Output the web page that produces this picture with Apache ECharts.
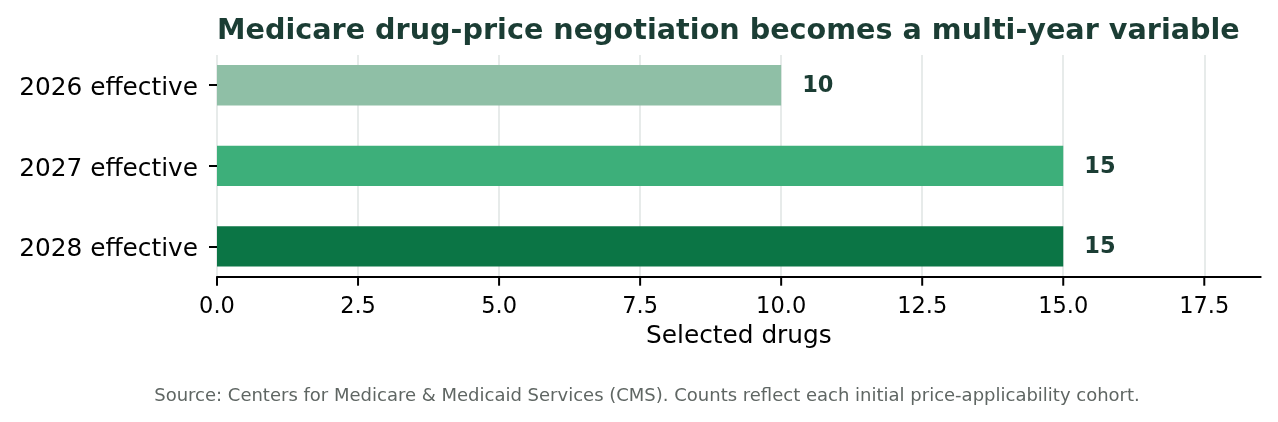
<!DOCTYPE html>
<html>
<head>
<meta charset="utf-8">
<title>Medicare drug-price negotiation</title>
<script src="https://cdn.jsdelivr.net/npm/echarts@6/dist/echarts.min.js"></script>
<style>
html, body { margin: 0; padding: 0; background: #fff; }
#chart { width: 1278px; height: 422px; }
</style>
</head>
<body>
<div id="chart"></div>
<script>
// data
var categories = ['2026 effective', '2027 effective', '2028 effective'];
var drugCounts = [10, 15, 15];
var barColors = ['#8fbfa6', '#3daf7a', '#0b7545'];
var xTicks = [0, 2.5, 5, 7.5, 10, 12.5, 15, 17.5];

var FONT = 'DejaVu Sans';
var DARK = '#1b3d34';
var Y_MIN = -0.375, Y_MAX = 2.375;

var seriesData = [];
for (var i = 0; i < categories.length; i++) {
    seriesData.push([drugCounts[i], i]);
}
var tickData = [];
for (var j = 0; j < xTicks.length; j++) {
    tickData.push([xTicks[j], Y_MAX]);
}

var myChart = echarts.init(document.getElementById('chart'), null, {renderer: 'canvas'});

var option = {
    animation: false,
    title: {
        text: 'Medicare drug-price negotiation becomes a multi-year variable',
        left: 217,
        top: 17,
        padding: 0,
        textStyle: {
            fontFamily: FONT,
            fontSize: 28.65,
            fontWeight: 'bold',
            color: DARK
        }
    },
    grid: {
        left: 217,
        right: 17.3,
        top: 55,
        bottom: 145.3
    },
    xAxis: {
        type: 'value',
        min: 0,
        max: 18.5,
        interval: 2.5,
        name: 'Selected drugs',
        nameLocation: 'middle',
        nameGap: 47,
        nameTextStyle: {fontFamily: FONT, fontSize: 24.8, color: '#000'},
        axisLine: {show: true, onZero: false, lineStyle: {color: '#000', width: 2}},
        axisTick: {show: false},
        axisLabel: {
            showMaxLabel: false,
            margin: 19,
            fontFamily: FONT,
            fontSize: 22.5,
            color: '#000',
            formatter: function (v) { return v.toFixed(1); }
        },
        splitLine: {show: true, showMaxLine: false, lineStyle: {color: '#dfe5e3', width: 1.5}}
    },
    yAxis: {
        type: 'value',
        inverse: true,
        min: Y_MIN,
        max: Y_MAX,
        axisLine: {show: false, onZero: false},
        axisTick: {show: true, length: 8, customValues: [0, 1, 2], lineStyle: {color: '#000', width: 2}},
        axisLabel: {
            customValues: [0, 1, 2],
            margin: 19,
            fontFamily: FONT,
            fontSize: 24.8,
            color: '#000',
            formatter: function (v) { return '{c|' + categories[Math.round(v)] + '}'; },
            rich: {
                c: {fontFamily: FONT, fontSize: 24.8, color: '#000', padding: [7, 0, 0, 0]}
            }
        },
        splitLine: {show: false}
    },
    series: [
        {
            type: 'custom',
            data: seriesData,
            encode: {x: 0, y: 1},
            renderItem: function (params, api) {
                var val = api.value(0);
                var idx = api.value(1);
                var p0 = api.coord([0, idx]);
                var p1 = api.coord([val, idx]);
                var h = Math.abs(api.size([0, 0.5])[1]);
                return {
                    type: 'group',
                    children: [
                        {
                            type: 'rect',
                            shape: {x: p0[0], y: p0[1] - h / 2, width: p1[0] - p0[0], height: h},
                            style: {fill: barColors[params.dataIndex]}
                        },
                        {
                            type: 'text',
                            x: p1[0] + 21,
                            y: p1[1] + 1,
                            style: {
                                text: String(val),
                                fontFamily: FONT,
                                fontSize: 22.5,
                                fontWeight: 'bold',
                                fill: DARK,
                                verticalAlign: 'middle',
                                align: 'left'
                            }
                        }
                    ]
                };
            }
        },
        {
            // x-axis tick marks, one per tick value, below the axis line
            type: 'custom',
            clip: false,
            silent: true,
            data: tickData,
            encode: {x: 0, y: 1},
            renderItem: function (params, api) {
                var p = api.coord([api.value(0), api.value(1)]);
                return {
                    type: 'line',
                    shape: {x1: p[0], y1: p[1], x2: p[0], y2: p[1] + 9},
                    style: {stroke: '#000', lineWidth: 2}
                };
            }
        }
    ],
    graphic: [
        {
            type: 'text',
            x: 647,
            y: 396,
            style: {
                text: 'Source: Centers for Medicare & Medicaid Services (CMS). Counts reflect each initial price-applicability cohort.',
                fontFamily: FONT,
                fontSize: 18,
                fill: '#5f6663',
                align: 'center',
                verticalAlign: 'middle'
            }
        }
    ]
};

myChart.setOption(option);
</script>
</body>
</html>
